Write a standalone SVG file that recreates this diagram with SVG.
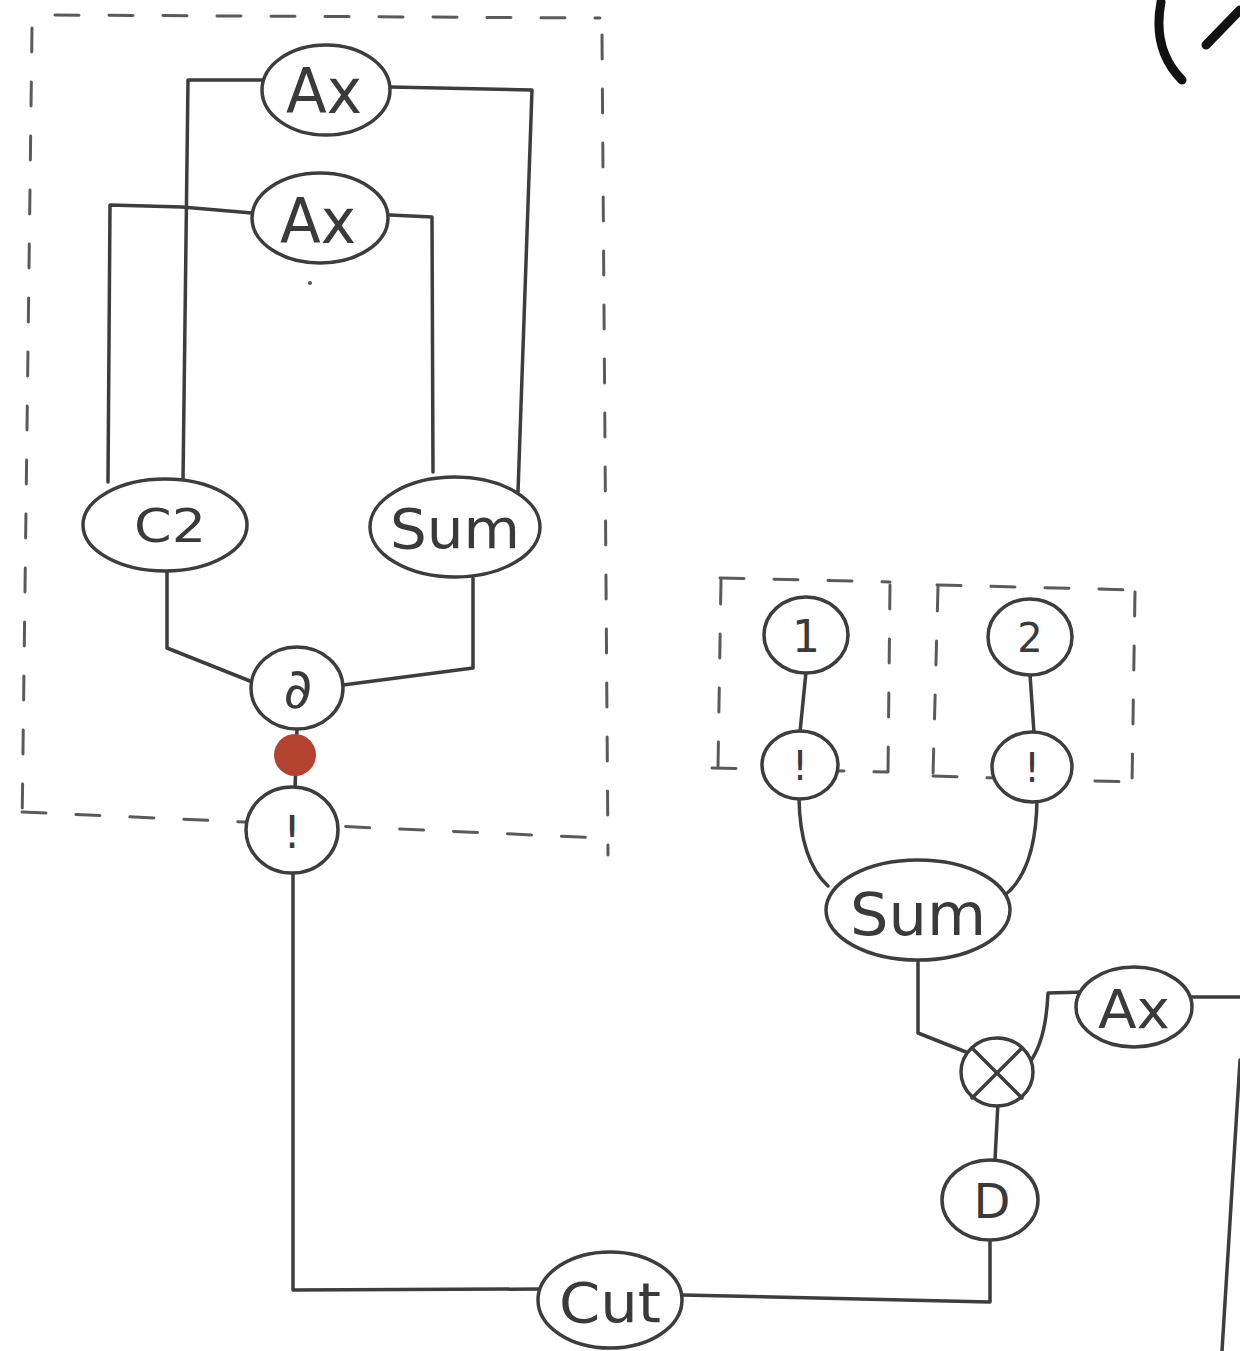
<svg xmlns="http://www.w3.org/2000/svg" width="1240" height="1351" viewBox="0 0 1240 1351">
  <style>
    .node { fill: #ffffff; stroke: #3d3d3d; stroke-width: 3.5; }
    .wire { fill: none; stroke: #3d3d3d; stroke-width: 3.5; stroke-linejoin: round; stroke-linecap: round; }
    .frame { fill: none; stroke: #5a5a5a; stroke-width: 3; stroke-dasharray: 24 30; stroke-linecap: round; }
    .lbl { font-family: "DejaVu Sans", "Liberation Sans", sans-serif; fill: #3a3a3a; text-anchor: middle; }
    .ink { fill: none; stroke: #111111; stroke-width: 9; stroke-linecap: round; }
  </style>
  <rect width="1240" height="1351" fill="#ffffff"/>

  <!-- dashed grouping frames -->
  <g id="frames">
    <path class="frame" d="M55 15 L600 18"/>
    <path class="frame" d="M32 28 L22 830"/>
    <path class="frame" d="M602 35 L608 855"/>
    <path class="frame" d="M22 812 L600 838"/>
    <path class="frame" d="M720 578 L890 582"/>
    <path class="frame" d="M721 580 L718 768"/>
    <path class="frame" d="M890 585 L888 772"/>
    <path class="frame" d="M712 768 L888 772"/>
    <path class="frame" d="M937 585 L1135 590"/>
    <path class="frame" d="M938 587 L933 775"/>
    <path class="frame" d="M1135 592 L1132 785"/>
    <path class="frame" d="M933 776 L1132 782"/>
  </g>

  <!-- connectors -->
  <g id="connectors">
    <path class="wire" d="M264 80 L188 80 L183 482"/>
    <path class="wire" d="M390 87 L532 90 L518 492"/>
    <path class="wire" d="M252 213 L182 207 L110 205 L108 482"/>
    <path class="wire" d="M390 215 L432 217 L433 472"/>
    <path class="wire" d="M167 570 L167 648 L255 683"/>
    <path class="wire" d="M473 578 L473 668 L343 685"/>
    <path class="wire" d="M297 728 L295 790"/>
    <path class="wire" d="M293 870 L293 1290 L540 1289"/>
    <path class="wire" d="M682 1295 L990 1302 L990 1240"/>
    <path class="wire" d="M995 1160 L998 1102"/>
    <path class="wire" d="M918 958 L918 1033 L966 1052"/>
    <path class="wire" d="M1030 1062 Q1046 1040 1048 993 L1085 992"/>
    <path class="wire" d="M1191 997 L1240 997"/>
    <path class="wire" d="M1240 1060 L1222 1351"/>
    <path class="wire" d="M806 672 L800 732"/>
    <path class="wire" d="M1030 674 L1034 733"/>
    <path class="wire" d="M799 798 Q800 860 828 886"/>
    <path class="wire" d="M1037 800 Q1036 870 1005 895"/>
  </g>

  <!-- loop body nodes -->
  <g id="ax-top">
    <ellipse class="node" cx="326" cy="90" rx="64" ry="45"/>
    <text class="lbl" x="324" y="113" font-size="62" textLength="76" lengthAdjust="spacingAndGlyphs">Ax</text>
  </g>
  <g id="ax-mid">
    <ellipse class="node" cx="320" cy="218" rx="68" ry="45"/>
    <text class="lbl" x="318" y="243" font-size="62" textLength="76" lengthAdjust="spacingAndGlyphs">Ax</text>
  </g>
  <circle cx="310" cy="283" r="2" fill="#555"/>
  <g id="c2">
    <ellipse class="node" cx="165" cy="525" rx="82" ry="46"/>
    <text class="lbl" x="170" y="542" font-size="46" textLength="72" lengthAdjust="spacingAndGlyphs">C2</text>
  </g>
  <g id="sum-loop">
    <ellipse class="node" cx="455" cy="527" rx="85" ry="50"/>
    <text class="lbl" x="455" y="548" font-size="56" textLength="130" lengthAdjust="spacingAndGlyphs">Sum</text>
  </g>
  <g id="partial">
    <ellipse class="node" cx="297" cy="688" rx="46" ry="41"/>
    <text class="lbl" x="298" y="708" font-size="56">∂</text>
  </g>
  <g id="bang-loop">
    <ellipse class="node" cx="292" cy="830" rx="46" ry="43"/>
    <text class="lbl" x="292" y="848" font-size="44">!</text>
  </g>
  <circle id="marker-dot" cx="295" cy="755" r="21" fill="#b3432e"/>

  <!-- parallel branches -->
  <g id="one">
    <ellipse class="node" cx="806" cy="635" rx="42" ry="38"/>
    <text class="lbl" x="806" y="652" font-size="44">1</text>
  </g>
  <g id="bang-one">
    <ellipse class="node" cx="800" cy="765" rx="38" ry="34"/>
    <text class="lbl" x="800" y="780" font-size="40">!</text>
  </g>
  <g id="two">
    <ellipse class="node" cx="1030" cy="637" rx="42" ry="38"/>
    <text class="lbl" x="1030" y="652" font-size="40">2</text>
  </g>
  <g id="bang-two">
    <ellipse class="node" cx="1032" cy="767" rx="40" ry="35"/>
    <text class="lbl" x="1032" y="782" font-size="40">!</text>
  </g>
  <g id="sum-branches">
    <ellipse class="node" cx="918" cy="910" rx="92" ry="50"/>
    <text class="lbl" x="918" y="935" font-size="58" textLength="136" lengthAdjust="spacingAndGlyphs">Sum</text>
  </g>

  <!-- output chain -->
  <g id="times">
    <ellipse class="node" cx="997" cy="1072" rx="36" ry="34"/>
    <path class="wire" d="M972 1048 L1022 1098 M1022 1048 L972 1098"/>
  </g>
  <g id="ax-out">
    <ellipse class="node" cx="1134" cy="1007" rx="58" ry="40"/>
    <text class="lbl" x="1134" y="1028" font-size="54" textLength="72" lengthAdjust="spacingAndGlyphs">Ax</text>
  </g>
  <g id="d">
    <ellipse class="node" cx="990" cy="1200" rx="48" ry="40"/>
    <text class="lbl" x="992" y="1218" font-size="48">D</text>
  </g>
  <g id="cut">
    <ellipse class="node" cx="610" cy="1300" rx="72" ry="48"/>
    <text class="lbl" x="610" y="1322" font-size="56" textLength="102" lengthAdjust="spacingAndGlyphs">Cut</text>
  </g>

  <!-- pen strokes at the top right corner -->
  <g id="corner-strokes">
    <path class="ink" d="M1161 2 Q1152 50 1182 80"/>
    <path class="ink" d="M1206 45 L1240 10"/>
  </g>
</svg>
